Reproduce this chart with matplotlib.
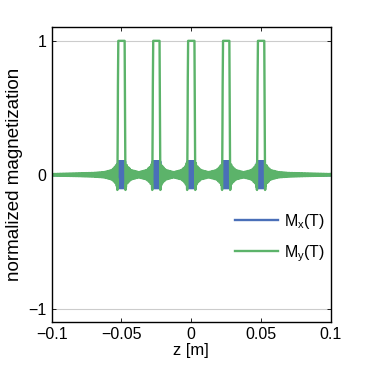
import numpy as np
import matplotlib.pyplot as plt

plt.rcParams['font.family'] = ['Liberation Sans', 'DejaVu Sans']

# slice positions along z [m] and slice width
slice_centers = [-0.05, -0.025, 0.0, 0.025, 0.05]
slice_width = 0.0052
edge_ramp = 0.0006

# ripple envelopes, vs distance to nearest slice centre [m]
my_env_d = [0.0, 0.0022, 0.0028, 0.0034, 0.0045, 0.007, 0.0125, 0.02, 0.03, 0.05]
my_env_amp = [0.004, 0.004, 0.12, 0.08, 0.06, 0.035, 0.02, 0.014, 0.011, 0.006]
mx_env_d = [0.0, 0.0028, 0.0034, 0.005, 0.0125, 0.05]
mx_env_amp = [0.1, 0.1, 0.05, 0.015, 0.006, 0.004]

z = np.linspace(-0.1, 0.1, 8001)
d = np.min(np.abs(z[:, None] - np.array(slice_centers)[None, :]), axis=1)

my = np.zeros_like(z)
for c in slice_centers:
    my += np.clip((slice_width / 2 - np.abs(z - c)) / edge_ramp + 0.5, 0, 1)
my_rip = np.interp(d, my_env_d, my_env_amp) * np.cos(2 * np.pi * z / 0.0011)
my_rip[d < 0.0026] = 0
edge = (d > 0.0026) & (d < 0.0031)
my_rip[edge] = -np.interp(d[edge], my_env_d, my_env_amp)
my = my + my_rip
mx = np.interp(d, mx_env_d, mx_env_amp) * np.sin(2 * np.pi * z / 0.0007)

fig = plt.figure(figsize=(3.66, 3.66), dpi=100)
ax = fig.add_axes([0.141, 0.120, 0.763, 0.805])
ax.plot(z, mx, color='#4a6fb8', lw=1.7, label=r'M$_\mathregular{x}$(T)')
ax.plot(z, my, color='#5cb36a', lw=1.7, label=r'M$_\mathregular{y}$(T)')

ax.set_xlim(-0.1, 0.1)
ax.set_ylim(-1.1, 1.1)
ax.set_xticks([-0.1, -0.05, 0, 0.05, 0.1])
ax.set_xticklabels(['\u22120.1', '\u22120.05', '0', '0.05', '0.1'])
ax.set_yticks([-1, 0, 1])
ax.set_yticklabels(['\u22121', '0', '1'])
ax.yaxis.grid(True, color='#cccccc', lw=0.8)
ax.set_axisbelow(True)
ax.tick_params(direction='in', top=True, right=True, length=3, width=0.6, labelsize=11.5)
for s in ax.spines.values():
    s.set_linewidth(1.0)
ax.set_xlabel('z [m]', fontsize=12, labelpad=1)
ax.set_ylabel('normalized magnetization', fontsize=13.5, labelpad=4)
ax.legend(loc='lower right', bbox_to_anchor=(1.03, 0.15), frameon=False, fontsize=11.5,
          handlelength=2.7, labelspacing=0.75, handletextpad=0.35)

fig.savefig('out.png', dpi=100)
